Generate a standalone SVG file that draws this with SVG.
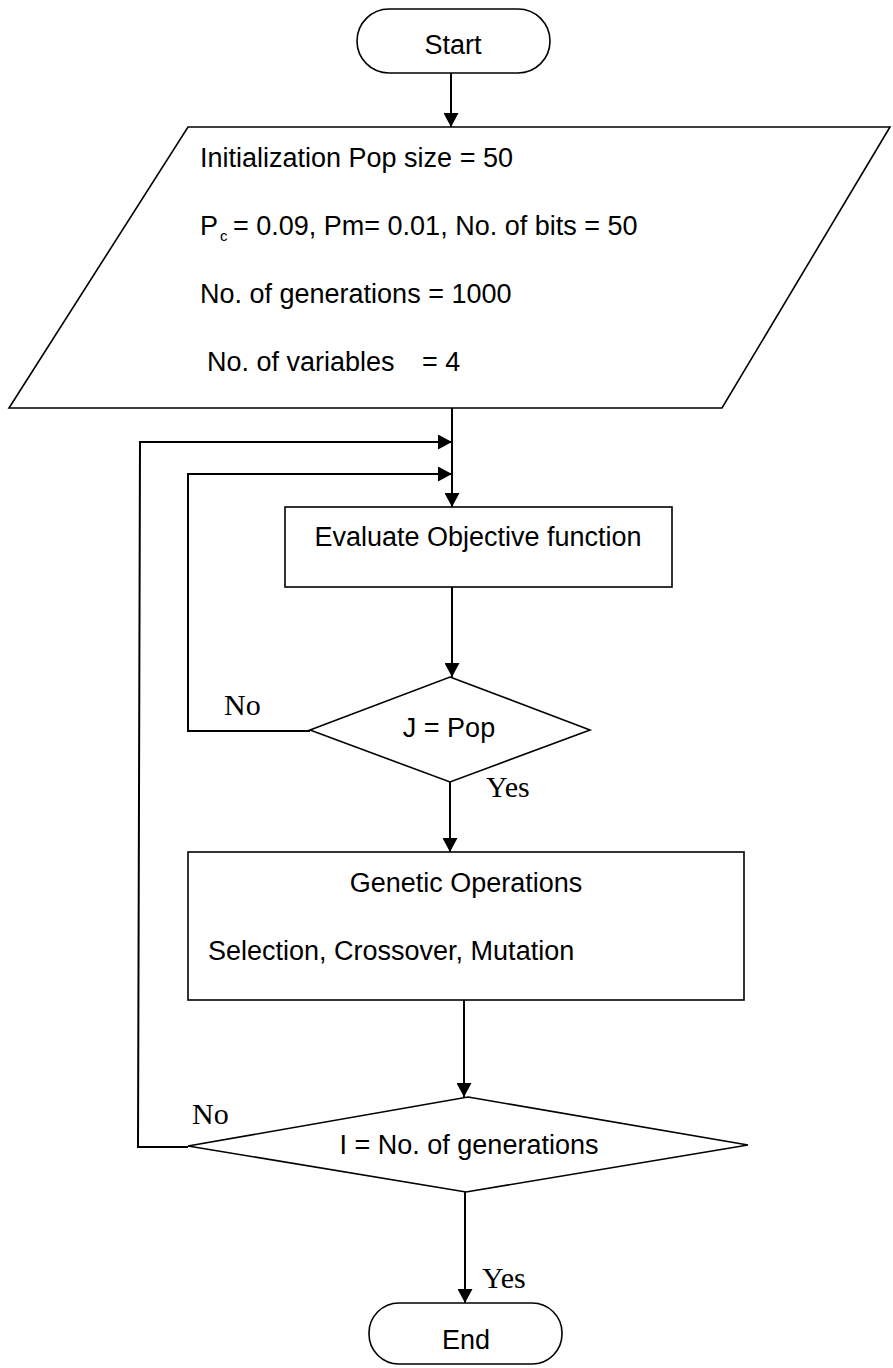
<svg xmlns="http://www.w3.org/2000/svg" width="893" height="1368" viewBox="0 0 893 1368">
  <defs>
    <marker id="arrow" markerUnits="userSpaceOnUse" markerWidth="14" markerHeight="15" refX="14" refY="7.5" orient="auto">
      <path d="M0,0 L14,7.5 L0,15 Z" fill="#000"/>
    </marker>
    <style>
      .shape { fill: #fff; stroke: #000; stroke-width: 1.6; }
      .conn { fill: none; stroke: #000; stroke-width: 2; }
      .t { font-family: "Liberation Sans", Arial, sans-serif; font-size: 27px; fill: #000; }
      .sub { font-family: "Liberation Sans", Arial, sans-serif; font-size: 15px; fill: #000; }
      .lbl { font-family: "Liberation Serif", "Times New Roman", serif; font-size: 30px; fill: #000; }
      .mid { text-anchor: middle; }
    </style>
  </defs>
  <rect width="893" height="1368" fill="#fff"/>

  <!-- connectors -->
  <g id="connectors">
    <path class="conn" d="M451 73 V127" marker-end="url(#arrow)"/>
    <path class="conn" d="M452 408 V507" marker-end="url(#arrow)"/>
    <path class="conn" d="M188 1147 H138 L140 442 H452" marker-end="url(#arrow)"/>
    <path class="conn" d="M310 731 H188 V474 H452" marker-end="url(#arrow)"/>
    <path class="conn" d="M452 587 V677" marker-end="url(#arrow)"/>
    <path class="conn" d="M450 782 V852" marker-end="url(#arrow)"/>
    <path class="conn" d="M464 1000 V1097" marker-end="url(#arrow)"/>
    <path class="conn" d="M465 1192 V1303" marker-end="url(#arrow)"/>
  </g>

  <!-- terminal: start -->
  <g id="start">
    <rect class="shape" x="357" y="9" width="193" height="64" rx="32" ry="32"/>
    <text class="t mid" x="453" y="54">Start</text>
  </g>

  <!-- input: parameters -->
  <g id="init">
    <polygon class="shape" points="188,127 890,127 722,408 9,408"/>
    <text class="t" x="200" y="167">Initialization Pop size = 50</text>
    <text class="t" x="200" y="235">P</text>
    <text class="sub" x="220" y="241">c</text>
    <text class="t" x="233" y="235">= 0.09, Pm= 0.01, No. of bits = 50</text>
    <text class="t" x="200" y="303">No. of generations = 1000</text>
    <text class="t" x="207" y="371">No. of variables</text>
    <text class="t" x="422" y="371">= 4</text>
  </g>

  <!-- process: evaluation -->
  <g id="evaluate">
    <rect class="shape" x="285" y="507" width="387" height="80"/>
    <text class="t mid" x="478" y="546">Evaluate Objective function</text>
  </g>

  <!-- decision: population loop -->
  <g id="check-pop">
    <polygon class="shape" points="450,677 590,730 450,782 310,730"/>
    <text class="t mid" x="449" y="737">J = Pop</text>
    <text class="lbl" x="224" y="715">No</text>
    <text class="lbl" x="486" y="797">Yes</text>
  </g>

  <!-- process: genetic operators -->
  <g id="genetic">
    <rect class="shape" x="188" y="852" width="556" height="148"/>
    <text class="t mid" x="466" y="892">Genetic Operations</text>
    <text class="t" x="208" y="960">Selection, Crossover, Mutation</text>
  </g>

  <!-- decision: generation loop -->
  <g id="check-gen">
    <polygon class="shape" points="468,1097 748,1145 466,1192 188,1146"/>
    <text class="t mid" x="469" y="1154">I = No. of generations</text>
    <text class="lbl" x="192" y="1124">No</text>
    <text class="lbl" x="482" y="1288">Yes</text>
  </g>

  <!-- terminal: end -->
  <g id="end">
    <rect class="shape" x="369" y="1303" width="193" height="61" rx="30" ry="30"/>
    <text class="t mid" x="466" y="1349">End</text>
  </g>
</svg>
